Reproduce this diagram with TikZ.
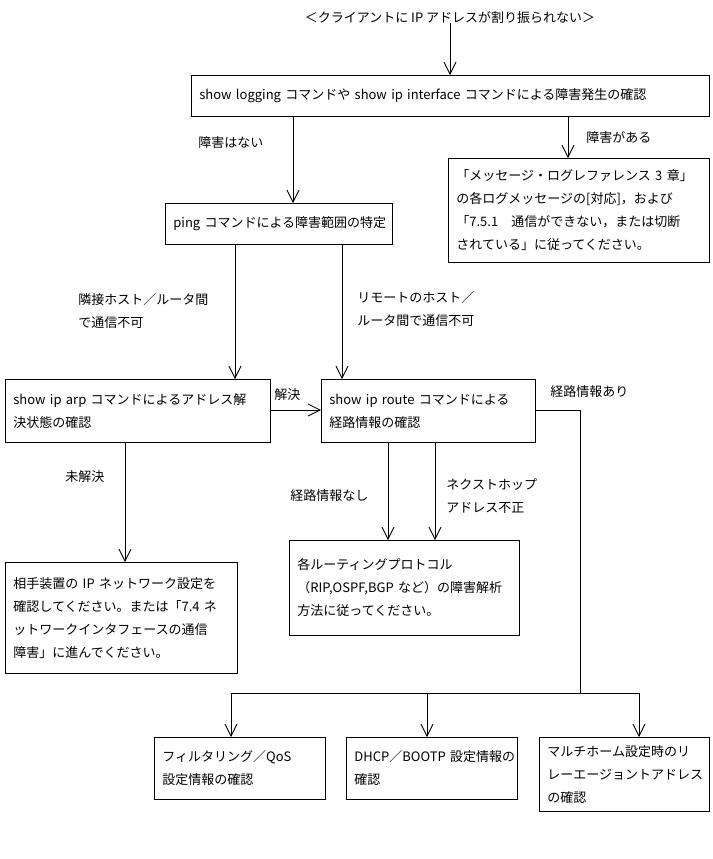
\documentclass[tikz,border=0pt]{standalone}
\usepackage{fontspec}
\setmainfont{Noto Sans CJK JP}
\usetikzlibrary{arrows.meta}
\tikzset{%
  box/.style={draw,rectangle,inner sep=4pt,align=left,anchor=north west},
  arr/.style={-{Straight Barb[length=6pt,width=6pt]}},
  lbl/.style={anchor=west,inner sep=0pt,align=left}
}
\NewDocumentCommand\flowBox{mmmmmm}{%
  \node[box,minimum width=(#4-#2)*0.5pt,minimum height=(#5-#3)*0.5pt,
    text width=(#4-#2)*0.5pt-8pt] (#1) at (#2,#3) {#6};
}
\begin{document}
\begin{tikzpicture}[x=0.5pt,y=-0.5pt,font=\fontsize{6.5}{11.5}\selectfont,thin]
  \useasboundingbox (0,0) rectangle (713,859);
  % title
  \node (title) at (450,18) {＜クライアントに~IP~アドレスが割り振られない＞};
  % boxes
  \flowBox{logBox}{191}{75}{709}{116}{show~logging~コマンドや~show~ip~interface~コマンドによる障害発生の確認}
  \flowBox{refBox}{448}{158}{709}{262}{「メッセージ・ログレファレンス~3~章」\\の各ログメッセージの[対応]，および\\「7.5.1　通信ができない，または切断\\されている」に従ってください。}
  \flowBox{pingBox}{165}{203}{392}{244}{ping~コマンドによる障害範囲の特定}
  \flowBox{arpBox}{5}{379}{270}{442}{show~ip~arp~コマンドによるアドレス解\\決状態の確認}
  \flowBox{routeBox}{321}{379}{535}{442}{show~ip~route~コマンドによる\\経路情報の確認}
  \flowBox{netBox}{5}{562}{237}{673}{相手装置の~IP~ネットワーク設定を\\確認してください。または「7.4~ネ\\ットワークインタフェースの通信\\障害」に進んでください。}
  \flowBox{protoBox}{289}{540}{519}{635}{各ルーティングプロトコル\\（RIP,OSPF,BGP~など）の障害解析\\方法に従ってください。}
  \flowBox{qosBox}{154}{737}{325}{799}{フィルタリング／QoS\\設定情報の確認}
  \flowBox{dhcpBox}{346}{737}{517}{799}{DHCP／BOOTP~設定情報の\\確認}
  \flowBox{homeBox}{539}{737}{709}{807}{マルチホーム設定時のリ\\レーエージョントアドレス\\の確認}
  % connectors
  \coordinate (xa) at (293,0);
  \coordinate (xb) at (568,0);
  \coordinate (xc) at (235,0);
  \coordinate (xd) at (342,0);
  \coordinate (xe) at (125,0);
  \coordinate (xf) at (388,0);
  \coordinate (xg) at (435,0);
  \coordinate (ya) at (0,410);
  \coordinate (jn) at (580,410);
  \coordinate (bus) at (580,693);
  \coordinate (busL) at (231,693);
  \coordinate (busM) at (427,693);
  \coordinate (busR) at (639,693);
  \draw[arr] (title.south) ++(0,-8) -- (logBox.north -| title.south);
  \draw[arr] (logBox.south -| xa) -- (pingBox.north -| xa);
  \draw[arr] (logBox.south -| xb) -- (refBox.north -| xb);
  \draw[arr] (pingBox.south -| xc) -- (arpBox.north -| xc);
  \draw[arr] (pingBox.south -| xd) -- (routeBox.north -| xd);
  \draw[arr] (arpBox.east |- ya) -- (routeBox.west |- ya);
  \draw[arr] (arpBox.south -| xe) -- (netBox.north -| xe);
  \draw[arr] (routeBox.south -| xf) -- (protoBox.north -| xf);
  \draw[arr] (routeBox.south -| xg) -- (protoBox.north -| xg);
  \draw (routeBox.east |- jn) -- (jn) -- (bus);
  \draw (busL) -- (busR);
  \draw[arr] (busL) -- (qosBox.north -| busL);
  \draw[arr] (busM) -- (dhcpBox.north -| busM);
  \draw[arr] (busR) -- (homeBox.north -| busR);
  % labels
  \node[lbl] (l1) at (198,143) {障害はない};
  \node[lbl] (l2) at (586,138) {障害がある};
  \node[lbl] (l3) at (78,311) {隣接ホスト／ルータ間\\で通信不可};
  \node[lbl] (l4) at (357,309) {リモートのホスト／\\ルータ間で通信不可};
  \node[lbl] (l5) at (274,395) {解決};
  \node[lbl] (l6) at (550,392) {経路情報あり};
  \node[lbl] (l7) at (65,477) {未解決};
  \node[lbl] (l8) at (290,496) {経路情報なし};
  \node[lbl] (l9) at (446,496) {ネクストホップ\\アドレス不正};
\end{tikzpicture}
\end{document}
